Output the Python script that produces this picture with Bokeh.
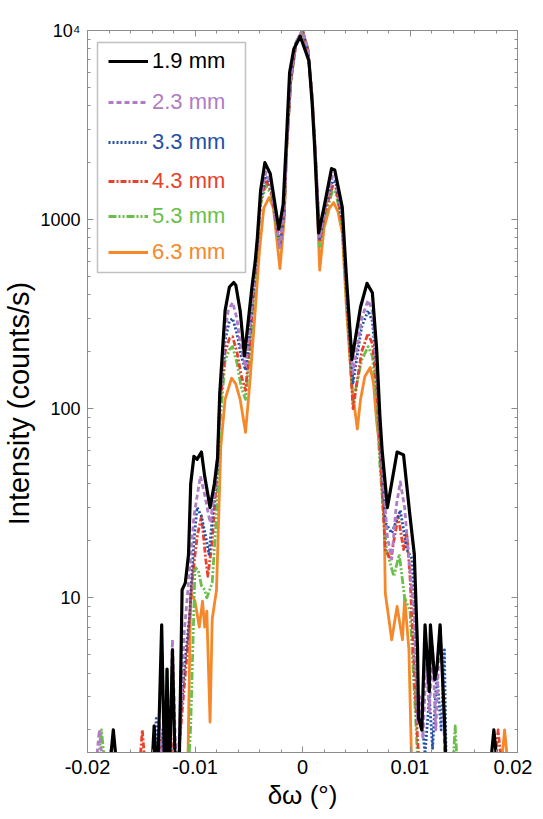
from bokeh.plotting import figure
from bokeh.models import (Range1d, LinearAxis, Legend, LegendItem, BoxAnnotation,
                          SingleIntervalTicker, FixedTicker, PrintfTickFormatter,
                          CustomJSTickFormatter)
from bokeh.embed import file_html
from bokeh.resources import INLINE

labels = ["1.9 mm", "2.3 mm", "3.3 mm", "4.3 mm", "5.3 mm", "6.3 mm"]
colors = ["#000000", "#b07cc6", "#2450a6", "#e8412c", "#6abf4b", "#f5882a"]
dashes = ["solid", "5 3", "2 2", "6 2 2 2", "8 2 2 2 2 2", "solid"]
widths = [3.2, 2.8, 2.8, 2.8, 2.8, 2.8]

# 1.9 mm
x19 = [-0.0200, -0.0181, -0.0176, -0.0171, -0.0141, -0.0138, -0.0135, -0.0131, -0.0128, -0.0126,
       -0.0124, -0.0121, -0.0118, -0.0115, -0.0112, -0.0109, -0.0106, -0.0104, -0.0101, -0.0098,
       -0.0094, -0.0091, -0.0086, -0.0082, -0.0079, -0.0077, -0.0072, -0.0068, -0.0064, -0.0062,
       -0.0058, -0.0054, -0.0047, -0.0044, -0.0042, -0.0039, -0.0035, -0.0030, -0.0022, -0.0018,
       -0.0015, -0.0012, -0.0008, -0.0002, 0.0006, 0.0009, 0.0011, 0.0015, 0.0020, 0.0027,
       0.0030, 0.0037, 0.0041, 0.0046, 0.0054, 0.0060, 0.0065, 0.0069, 0.0072, 0.0074,
       0.0079, 0.0088, 0.0094, 0.0100, 0.0104, 0.0107, 0.0108, 0.0111, 0.0114, 0.0118,
       0.0119, 0.0123, 0.0125, 0.0128, 0.0132, 0.0134, 0.0173, 0.0178, 0.0183, 0.0200]
y19 = [1, 1, 2.0, 1, 1, 2.1, 1, 7.2, 1, 4.2,
       1, 5.3, 1, 1, 11, 12, 17, 40, 56, 54,
       59, 44, 30, 40, 55, 120, 330, 440, 465, 450,
       330, 190, 440, 600, 800, 1420, 2000, 1750, 890, 1200,
       2600, 6000, 8000, 9300, 6900, 4100, 2600, 850, 1160, 1860,
       1830, 1160, 480, 182, 345, 460, 410, 205, 91, 61,
       30, 59, 57, 27, 17, 5.4, 2.3, 2.0, 7.2, 3.2,
       7.2, 3.7, 4.2, 7.2, 2.3, 1, 1, 2.0, 1, 1]

# 2.3 mm
x23 = [-0.0200, -0.0194, -0.0189, -0.0184, -0.0136, -0.0133, -0.0130, -0.0124, -0.0121, -0.0118,
       -0.0116, -0.0112, -0.0110, -0.0106, -0.0101, -0.0095, -0.0091, -0.0086, -0.0082, -0.0079,
       -0.0077, -0.0072, -0.0069, -0.0065, -0.0061, -0.0058, -0.0053, -0.0049, -0.0046, -0.0042,
       -0.0039, -0.0034, -0.0029, -0.0021, -0.0017, -0.0015, -0.0011, -0.0006, 0.0000, 0.0005,
       0.0009, 0.0012, 0.0016, 0.0021, 0.0028, 0.0031, 0.0037, 0.0041, 0.0047, 0.0055,
       0.0061, 0.0065, 0.0069, 0.0072, 0.0076, 0.0079, 0.0083, 0.0087, 0.0091, 0.0095,
       0.0099, 0.0104, 0.0107, 0.0109, 0.0112, 0.0115, 0.0118, 0.0121, 0.0124, 0.0128,
       0.0131, 0.0133, 0.0200]
y23 = [1, 1, 2.0, 1, 1, 2.2, 1, 1, 6.0, 1.5,
       1.3, 3.5, 6.6, 12, 27, 44, 35, 25, 35, 55,
       110, 260, 330, 365, 300, 220, 166, 260, 420, 750,
       1300, 1780, 1500, 710, 1100, 2300, 5500, 8700, 10000, 8000,
       4500, 2300, 800, 1150, 1700, 1650, 1050, 450, 155, 300,
       375, 330, 170, 80, 35, 21, 16, 30, 41, 30,
       16, 8, 2.2, 3.0, 1.8, 4.5, 2.5, 5.5, 2.0, 7.2,
       3, 1, 1]

# 3.3 mm
x33 = [-0.0200, -0.0140, -0.0136, -0.0133, -0.0130, -0.0127, -0.0122, -0.0119, -0.0116, -0.0113,
       -0.0110, -0.0105, -0.0101, -0.0098, -0.0094, -0.0090, -0.0087, -0.0083, -0.0079, -0.0077,
       -0.0072, -0.0068, -0.0065, -0.0061, -0.0057, -0.0053, -0.0049, -0.0046, -0.0042, -0.0039,
       -0.0034, -0.0029, -0.0021, -0.0017, -0.0015, -0.0011, -0.0006, 0.0000, 0.0005, 0.0009,
       0.0012, 0.0016, 0.0021, 0.0028, 0.0031, 0.0037, 0.0041, 0.0047, 0.0055, 0.0061,
       0.0065, 0.0069, 0.0072, 0.0077, 0.0083, 0.0091, 0.0097, 0.0102, 0.0104, 0.0107,
       0.0111, 0.0114, 0.0118, 0.0121, 0.0125, 0.0129, 0.0132, 0.0134, 0.0200]
y33 = [1, 1, 2.3, 1.2, 2.0, 1, 1, 1.8, 1, 2.5,
       4.2, 8, 20, 30, 27, 21, 17, 30, 50, 110,
       230, 290, 300, 250, 190, 160, 250, 400, 740, 1280,
       1700, 1480, 730, 1100, 2300, 5400, 8600, 10000, 7800, 4300,
       2200, 780, 1150, 1600, 1580, 1000, 430, 137, 270, 330,
       290, 160, 75, 25, 22, 29, 18, 16, 8.5, 2.3,
       2.2, 1.5, 3.0, 1.6, 4.0, 2.0, 5.3, 1, 1]

# 4.3 mm
x43 = [-0.0200, -0.0153, -0.0149, -0.0145, -0.0135, -0.0132, -0.0129, -0.0126, -0.0123, -0.0120,
       -0.0116, -0.0112, -0.0107, -0.0103, -0.0098, -0.0094, -0.0090, -0.0088, -0.0084, -0.0080,
       -0.0077, -0.0072, -0.0068, -0.0065, -0.0061, -0.0057, -0.0053, -0.0049, -0.0046, -0.0042,
       -0.0039, -0.0034, -0.0029, -0.0021, -0.0017, -0.0015, -0.0011, -0.0006, 0.0000, 0.0005,
       0.0009, 0.0012, 0.0016, 0.0021, 0.0028, 0.0031, 0.0037, 0.0041, 0.0047, 0.0055,
       0.0061, 0.0065, 0.0069, 0.0072, 0.0077, 0.0082, 0.0089, 0.0094, 0.0097, 0.0100,
       0.0104, 0.0107, 0.0110, 0.0177, 0.0182, 0.0187, 0.0200]
y43 = [1, 1, 2.0, 1, 1, 1.8, 1, 1, 2.2, 1,
       1.3, 2.5, 5.4, 12, 21, 27, 16, 13, 20, 42,
       100, 200, 235, 240, 200, 150, 125, 220, 380, 720,
       1250, 1620, 1400, 720, 1080, 2300, 5400, 8600, 10000, 7900,
       4400, 2250, 760, 1100, 1500, 1480, 960, 400, 100, 200,
       250, 220, 130, 60, 18, 16, 27, 18, 22, 13,
       4, 1.8, 1, 1, 2.0, 1, 1]

# 5.3 mm
x53 = [-0.0200, -0.0192, -0.0187, -0.0182, -0.0129, -0.0126, -0.0123, -0.0107, -0.0104, -0.0100,
       -0.0097, -0.0094, -0.0091, -0.0089, -0.0084, -0.0080, -0.0077, -0.0072, -0.0068, -0.0065,
       -0.0061, -0.0057, -0.0053, -0.0049, -0.0046, -0.0042, -0.0039, -0.0034, -0.0029, -0.0021,
       -0.0017, -0.0015, -0.0011, -0.0006, 0.0000, 0.0005, 0.0009, 0.0012, 0.0016, 0.0021,
       0.0028, 0.0031, 0.0037, 0.0041, 0.0047, 0.0055, 0.0061, 0.0065, 0.0069, 0.0072,
       0.0078, 0.0085, 0.0090, 0.0095, 0.0100, 0.0102, 0.0106, 0.0108, 0.0139, 0.0142,
       0.0145, 0.0200]
y53 = [1, 1, 2.0, 1, 1, 4.2, 1, 1, 2.1, 14.5,
       14, 11.6, 11, 10, 12, 27, 80, 180, 205, 213,
       175, 130, 112, 200, 360, 700, 1200, 1520, 1350, 700,
       1050, 2250, 5400, 8700, 10000, 8000, 4400, 2200, 720, 1050,
       1420, 1400, 920, 380, 108, 180, 213, 190, 110, 50,
       18, 13, 17, 10, 8.5, 5.3, 1.9, 1, 1, 2.1,
       1, 1]

# 6.3 mm
x63 = [-0.0200, -0.0107, -0.0104, -0.0100, -0.0096, -0.0093, -0.0091, -0.0089, -0.0086, -0.0084,
       -0.0080, -0.0076, -0.0072, -0.0066, -0.0062, -0.0058, -0.0053, -0.0049, -0.0044, -0.0040,
       -0.0036, -0.0031, -0.0027, -0.0021, -0.0017, -0.0015, -0.0011, -0.0006, 0.0000, 0.0005,
       0.0009, 0.0012, 0.0016, 0.0020, 0.0025, 0.0029, 0.0033, 0.0037, 0.0041, 0.0046,
       0.0051, 0.0054, 0.0058, 0.0063, 0.0066, 0.0069, 0.0072, 0.0076, 0.0077, 0.0083,
       0.0088, 0.0093, 0.0095, 0.0099, 0.0102, 0.0183, 0.0188, 0.0193, 0.0200]
y63 = [1, 1, 10.6, 9.6, 7, 9.6, 7, 8.5, 2.2, 7.7,
       11, 63, 112, 145, 135, 112, 75, 137, 330, 690,
       1150, 1310, 1150, 550, 1000, 2200, 5300, 8600, 10000, 7900,
       4300, 2100, 540, 900, 1150, 1230, 1100, 850, 330, 130,
       78, 112, 148, 165, 137, 85, 61, 26, 10.6, 6,
       9, 6, 10, 5.3, 1, 1, 2.0, 1, 1]

series = [(x19, y19), (x23, y23), (x33, y33), (x43, y43), (x53, y53), (x63, y63)]

y_major = [10, 100, 1000, 10000]

FONT = "Liberation Sans"
AX = "#8c8c8c"

p = figure(width=532, height=812, x_range=Range1d(-0.02, 0.02), y_range=Range1d(1.52, 10000),
           y_axis_type="log", output_backend="svg", toolbar_location=None,
           min_border_left=82, min_border_right=15, min_border_top=30, min_border_bottom=58)
p.xgrid.visible = False
p.ygrid.visible = False
p.outline_line_color = AX
p.background_fill_color = "white"
p.border_fill_color = "white"

xt = SingleIntervalTicker(interval=0.01, num_minor_ticks=5)
yt = FixedTicker(ticks=y_major,
                 minor_ticks=[m * 10 ** k for k in range(0, 4) for m in range(2, 10)])


def style(ax):
    ax.axis_line_color = AX
    ax.major_tick_line_color = AX
    ax.minor_tick_line_color = AX
    ax.major_tick_in = 6
    ax.major_tick_out = 0
    ax.minor_tick_in = 3
    ax.minor_tick_out = 0


xa = p.xaxis[0]
xa.ticker = xt
xa.formatter = CustomJSTickFormatter(code="return Math.abs(tick) < 1e-9 ? '0' : tick.toFixed(2)")
xa.major_label_text_font = FONT
xa.major_label_text_font_size = "20px"
xa.major_label_text_color = "black"
xa.major_label_standoff = 7
xa.axis_label = "δω (°)"
xa.axis_label_text_font = FONT
xa.axis_label_text_font_size = "26px"
xa.axis_label_text_font_style = "normal"
xa.axis_label_text_color = "black"
xa.axis_label_standoff = 3
style(xa)

ya = p.yaxis[0]
ya.ticker = yt
ya.formatter = PrintfTickFormatter(format="%d")
ya.major_label_overrides = {10000: "10⁴"}
ya.major_label_text_font = FONT
ya.major_label_text_font_size = "18px"
ya.major_label_text_color = "black"
ya.major_label_standoff = 7
ya.axis_label = "Intensity (counts/s)\u00a0\u00a0\u00a0"
ya.axis_label_text_font = FONT
ya.axis_label_text_font_size = "29px"
ya.axis_label_text_font_style = "normal"
ya.axis_label_text_color = "black"
ya.axis_label_standoff = 2
style(ya)

top = LinearAxis(ticker=xt, major_label_text_color=None, major_label_text_alpha=0,
                 major_label_text_font_size="1px", major_label_standoff=0)
style(top)
p.add_layout(top, "above")
right = LinearAxis(ticker=yt, major_label_text_color=None, major_label_text_alpha=0,
                   major_label_text_font_size="1px", major_label_standoff=0)
style(right)
p.add_layout(right, "right")

rend = [None] * 6
for i in reversed(range(6)):
    xs, ys = series[i]
    rend[i] = p.line(xs, ys, line_color=colors[i], line_width=widths[i],
                     line_dash=dashes[i], line_join="round")

rows_y = [678, 637, 597, 558, 523, 487]
for i in range(6):
    lg = Legend(items=[LegendItem(label=labels[i], renderers=[rend[i]])],
                location=(21, rows_y[i]), border_line_color=None, background_fill_alpha=0,
                padding=0, margin=0, glyph_width=40, glyph_height=24, label_height=24,
                label_standoff=4, label_text_font=FONT, label_text_font_size="22px",
                label_text_color=colors[i])
    p.add_layout(lg, "center")

box = BoxAnnotation(left=10, right=158, top=710, bottom=480,
                    left_units="screen", right_units="screen",
                    top_units="screen", bottom_units="screen",
                    fill_alpha=0, line_color="#333333", line_width=1.5)
p.add_layout(box)

open("out.html", "w").write(file_html(p, INLINE))
